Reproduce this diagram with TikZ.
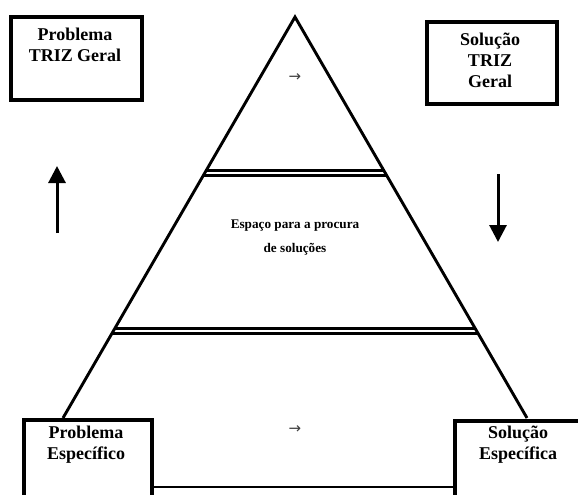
\documentclass[tikz,border=0pt]{standalone}
\usepackage{fontspec}
\setmainfont{Liberation Serif}
\newfontfamily\arrowfont{DejaVu Sans}
\usetikzlibrary{arrows.meta}
\begin{document}
\begin{tikzpicture}[x=1pt,y=-1pt,
  box/.style={draw, line width=3.8pt, fill=white, inner sep=0, anchor=north west},
  lbl/.style={font=\fontsize{18}{21}\selectfont\bfseries, align=center, anchor=north, inner sep=0},
  midlbl/.style={font=\fontsize{13.2}{24}\selectfont\bfseries, align=center, anchor=north, inner sep=0},
  small/.style={font=\arrowfont\fontsize{15}{16}\selectfont, text=black!75, inner sep=0},
  side/.style={line width=2.9pt, line join=miter},
  divider/.style={line width=2.5pt},
  bigarrow/.style={line width=3pt, -{Triangle[width=17pt,length=17pt]}}]
\useasboundingbox (0,0) rectangle (578,495);
\clip (0,0) rectangle (578,495);
% pyramid
\coordinate (apex) at (295,17);
\coordinate (bl) at (63,418);
\coordinate (br) at (527,418);
\draw[side] (bl) -- (apex) -- (br);
\begin{scope}
  \clip (apex) -- (bl) -- (br) -- cycle;
  \coordinate (d1a) at (0,170.5); \coordinate (d1b) at (578,170.5);
  \coordinate (d1c) at (0,175.3); \coordinate (d1d) at (578,175.3);
  \coordinate (d2a) at (0,328.5); \coordinate (d2b) at (578,328.5);
  \coordinate (d2c) at (0,333.3); \coordinate (d2d) at (578,333.3);
  \draw[divider] (d1a) -- (d1b);
  \draw[divider] (d1c) -- (d1d);
  \draw[divider] (d2a) -- (d2b);
  \draw[divider] (d2c) -- (d2d);
\end{scope}
% bottom boxes
\node[box, minimum width=128pt, minimum height=100pt] (pe) at (22,418) {};
\node[box, minimum width=160pt, minimum height=100pt] (se) at (453,419) {};
\coordinate (b1) at (150,487);
\coordinate (b2) at (453,487);
\draw[side] (b1) -- (b2);
\node[lbl] (tpe) at (86,426) {Problema\\Específico};
\node[lbl] (tse) at (518,426) {Solução\\Específica};
% top boxes
\node[box, minimum width=131pt, minimum height=83pt] (pg) at (9,15) {};
\node[lbl] (tpg) at (75,27.5) {Problema\\TRIZ Geral};
\node[box, minimum width=130pt, minimum height=82pt] (sg) at (425,20) {};
\node[lbl] (tsg) at (490,32.5) {Solução\\TRIZ\\Geral};
% middle text
\node[midlbl] (esp) at (295,219.5) {Espaço para a procura\\de soluções};
% small arrows
\node[small] (a1) at (295,78) {→};
\node[small] (a2) at (295,430) {→};
% big arrows
\coordinate (ua1) at (57,233); \coordinate (ua2) at (57,166);
\draw[bigarrow] (ua1) -- (ua2);
\coordinate (da1) at (498,174); \coordinate (da2) at (498,242);
\draw[bigarrow] (da1) -- (da2);
\end{tikzpicture}
\end{document}
